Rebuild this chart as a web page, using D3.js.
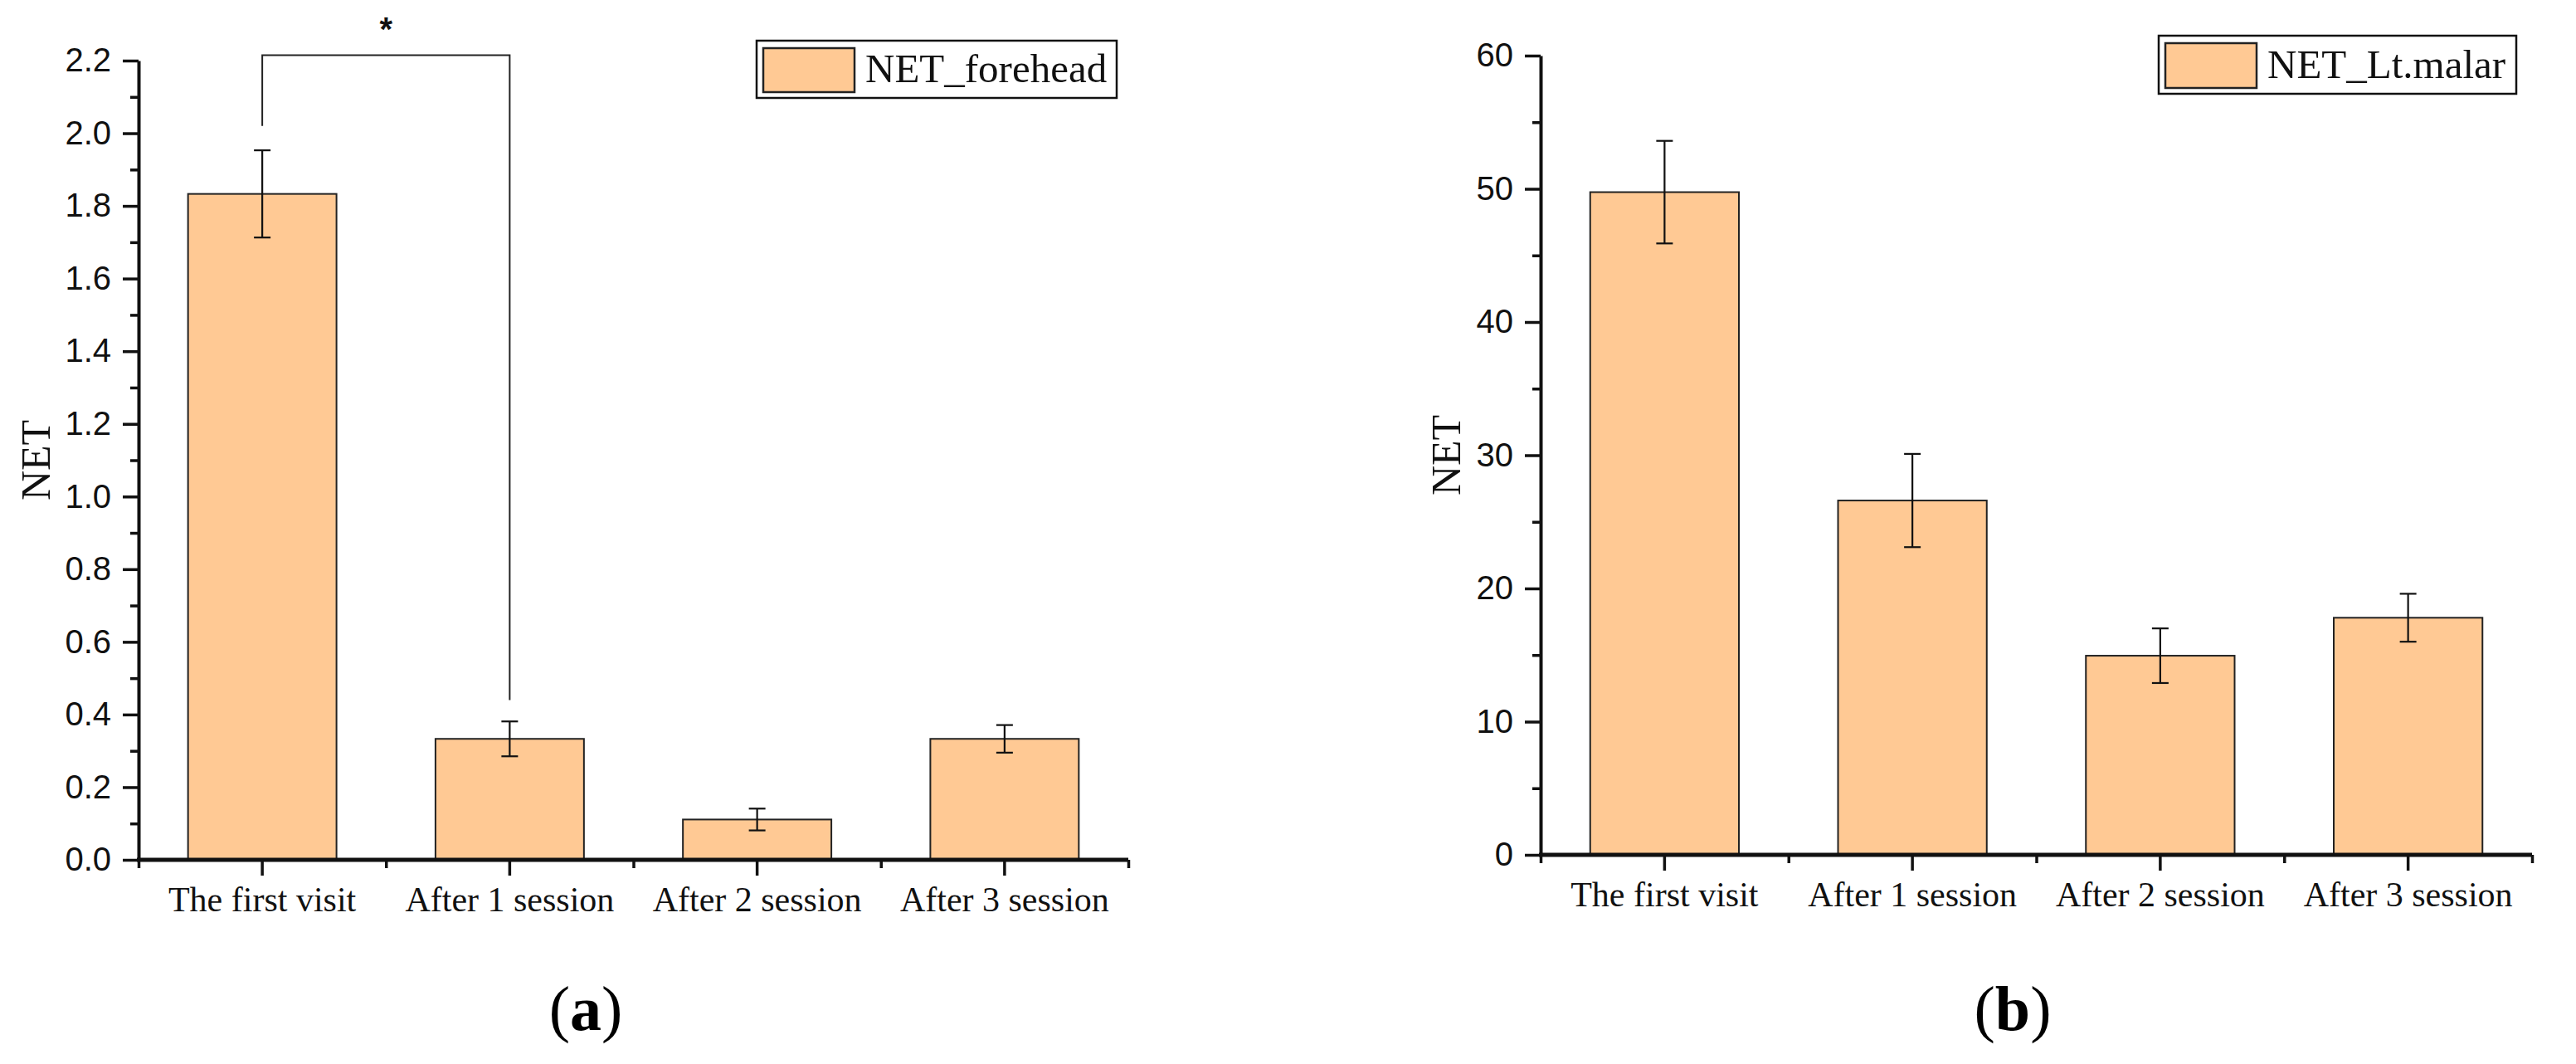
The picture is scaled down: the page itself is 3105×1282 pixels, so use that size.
<!DOCTYPE html>
<html><head><meta charset="utf-8">
<script src="https://cdn.jsdelivr.net/npm/d3@7"></script>
<style>body{margin:0;background:#fff}svg{display:block}</style>
</head><body><svg id="c" width="3105" height="1282"></svg>
<script>
// ---- data ----
const categories = ["The first visit", "After 1 session", "After 2 session", "After 3 session"];
const foreheadMean = [1.833, 0.333, 0.111, 0.333];
const foreheadErr  = [0.12, 0.048, 0.03, 0.038];
const malarMean = [49.75, 26.6, 14.95, 17.8];
const malarErr  = [3.85, 3.5, 2.05, 1.8];
const foreheadTicks = [0, 0.2, 0.4, 0.6, 0.8, 1.0, 1.2, 1.4, 1.6, 1.8, 2.0, 2.2];
const foreheadMinor = [0.1, 0.3, 0.5, 0.7, 0.9, 1.1, 1.3, 1.5, 1.7, 1.9, 2.1];
const malarTicks = [0, 10, 20, 30, 40, 50, 60];
const malarMinor = [5, 15, 25, 35, 45, 55];
const legendNames = ["NET_forehead", "NET_Lt.malar"];
const yTitle = "NET";
const panelLetters = ["a", "b"];
// significance bracket (panel a): between category 0 and 1
const sigFrom = 0, sigTo = 1, sigTop = 2.215, sigLeftEnd = 2.02, sigRightEnd = 0.44, sigLabel = "*";

// ---- style ----
const barFill = "#FFC994", ink = "#111";
const sans = "'Liberation Sans', Arial, sans-serif";
const serif = "'Liberation Serif', 'Times New Roman', serif";

const svg = d3.select("#c");
svg.append("rect").attr("width", 3105).attr("height", 1282).attr("fill", "#fff");

function panel(cfg) {
  const g = svg.append("g");
  const x = d3.scaleBand().domain(categories).range([cfg.x0, cfg.x1]).paddingInner(0.4).paddingOuter(0.2);
  const y = d3.scaleLinear().domain(cfg.domain).range([cfg.yb, cfg.yt]);
  const xb = d3.scaleLinear().domain([0, categories.length]).range([cfg.x0, cfg.x1]);

  // bars
  g.selectAll("rect.bar").data(cfg.mean).join("rect")
    .attr("x", (d, i) => x(categories[i])).attr("width", x.bandwidth())
    .attr("y", d => y(d)).attr("height", d => y(0) - y(d))
    .attr("fill", barFill).attr("stroke", "#222").attr("stroke-width", 2);

  // error bars
  const eg = g.selectAll("g.err").data(cfg.mean).join("g")
    .attr("transform", (d, i) => `translate(${x(categories[i]) + x.bandwidth() / 2},0)`)
    .attr("stroke", ink).attr("stroke-width", 2.2);
  eg.append("line").attr("y1", (d, i) => y(d + cfg.err[i])).attr("y2", (d, i) => y(d - cfg.err[i]));
  eg.append("line").attr("x1", -10).attr("x2", 10).attr("y1", (d, i) => y(d + cfg.err[i])).attr("y2", (d, i) => y(d + cfg.err[i]));
  eg.append("line").attr("x1", -10).attr("x2", 10).attr("y1", (d, i) => y(d - cfg.err[i])).attr("y2", (d, i) => y(d - cfg.err[i]));

  // y axis
  const ya = g.append("g").attr("transform", `translate(${cfg.x0},0)`)
    .call(d3.axisLeft(y).tickValues(cfg.ticks).tickSize(19).tickPadding(14).tickSizeOuter(0).tickFormat(cfg.fmt));
  const ym = g.append("g").attr("transform", `translate(${cfg.x0},0)`)
    .call(d3.axisLeft(y).tickValues(cfg.minor).tickSize(10).tickFormat("").tickSizeOuter(0));
  ym.select(".domain").remove();
  [ya, ym].forEach(a => {
    a.selectAll("line").attr("stroke", ink).attr("stroke-width", 3.5);
    a.select(".domain").attr("stroke", ink).attr("stroke-width", 4);
  });
  ya.selectAll("text").attr("font-family", sans).attr("font-size", 40).attr("fill", ink);

  // x axis
  const xa = g.append("g").attr("transform", `translate(0,${cfg.yb})`)
    .call(d3.axisBottom(x).tickSize(19).tickSizeOuter(0));
  const xm = g.append("g").attr("transform", `translate(0,${cfg.yb})`)
    .call(d3.axisBottom(xb).tickValues(d3.range(0, categories.length + 1)).tickSize(10).tickFormat("").tickSizeOuter(0));
  xm.select(".domain").remove();
  xa.select(".domain").attr("d", `M${cfg.x0 - 2},0H${cfg.x1}`).attr("stroke", ink).attr("stroke-width", 5);
  [xa, xm].forEach(a => a.selectAll("line").attr("stroke", ink).attr("stroke-width", 3.5));
  xa.selectAll("text").attr("y", 62).attr("dy", 0)
    .attr("font-family", serif).attr("font-size", 42).attr("fill", ink);

  // y title
  g.append("text").attr("transform", `translate(${cfg.titleX},${(cfg.yt + cfg.yb) / 2}) rotate(-90)`)
    .attr("text-anchor", "middle").attr("font-family", serif).attr("font-size", 50).attr("fill", ink).text(yTitle);

  // legend
  const L = cfg.legend;
  g.append("rect").attr("x", L.x).attr("y", L.y).attr("width", L.w).attr("height", L.h)
    .attr("fill", "#fff").attr("stroke", ink).attr("stroke-width", 2.5);
  g.append("rect").attr("x", L.x + 8).attr("y", L.y + 9).attr("width", 110).attr("height", L.h - 16)
    .attr("fill", barFill).attr("stroke", "#222").attr("stroke-width", 2.5);
  g.append("text").attr("x", L.x + 131).attr("y", L.y + L.h - 19).attr("font-family", serif).attr("font-size", 49)
    .attr("fill", ink).text(cfg.name);

  // panel caption
  const cap = svg.append("text").attr("x", cfg.capX).attr("y", 1241).attr("text-anchor", "middle")
    .attr("font-family", serif).attr("font-size", 76).attr("fill", "#000");
  cap.append("tspan").text("(");
  cap.append("tspan").attr("font-weight", "bold").text(cfg.letter);
  cap.append("tspan").text(")");

  return {x, y, g};
}

const A = panel({x0: 167, x1: 1360, yt: 73, yb: 1036, domain: [0, 2.2], mean: foreheadMean, err: foreheadErr,
  ticks: foreheadTicks, minor: foreheadMinor, fmt: d3.format(".1f"), titleX: 60,
  legend: {x: 912, y: 49, w: 434, h: 69}, name: legendNames[0], capX: 706, letter: panelLetters[0]});
const B = panel({x0: 1857, x1: 3052, yt: 67, yb: 1030, domain: [0, 60], mean: malarMean, err: malarErr,
  ticks: malarTicks, minor: malarMinor, fmt: d3.format("d"), titleX: 1760,
  legend: {x: 2602, y: 43, w: 431, h: 70}, name: legendNames[1], capX: 2426, letter: panelLetters[1]});

// significance bracket
const cx0 = A.x(categories[sigFrom]) + A.x.bandwidth() / 2;
const cx1 = A.x(categories[sigTo]) + A.x.bandwidth() / 2;
A.g.append("path")
  .attr("d", `M${cx0},${A.y(sigLeftEnd)}V${A.y(sigTop)}H${cx1}V${A.y(sigRightEnd)}`)
  .attr("fill", "none").attr("stroke", "#222").attr("stroke-width", 2);
A.g.append("text").attr("x", (cx0 + cx1) / 2).attr("y", 49).attr("text-anchor", "middle")
  .attr("font-family", sans).attr("font-weight", "bold").attr("font-size", 40).attr("fill", ink).text(sigLabel);
</script></body></html>
